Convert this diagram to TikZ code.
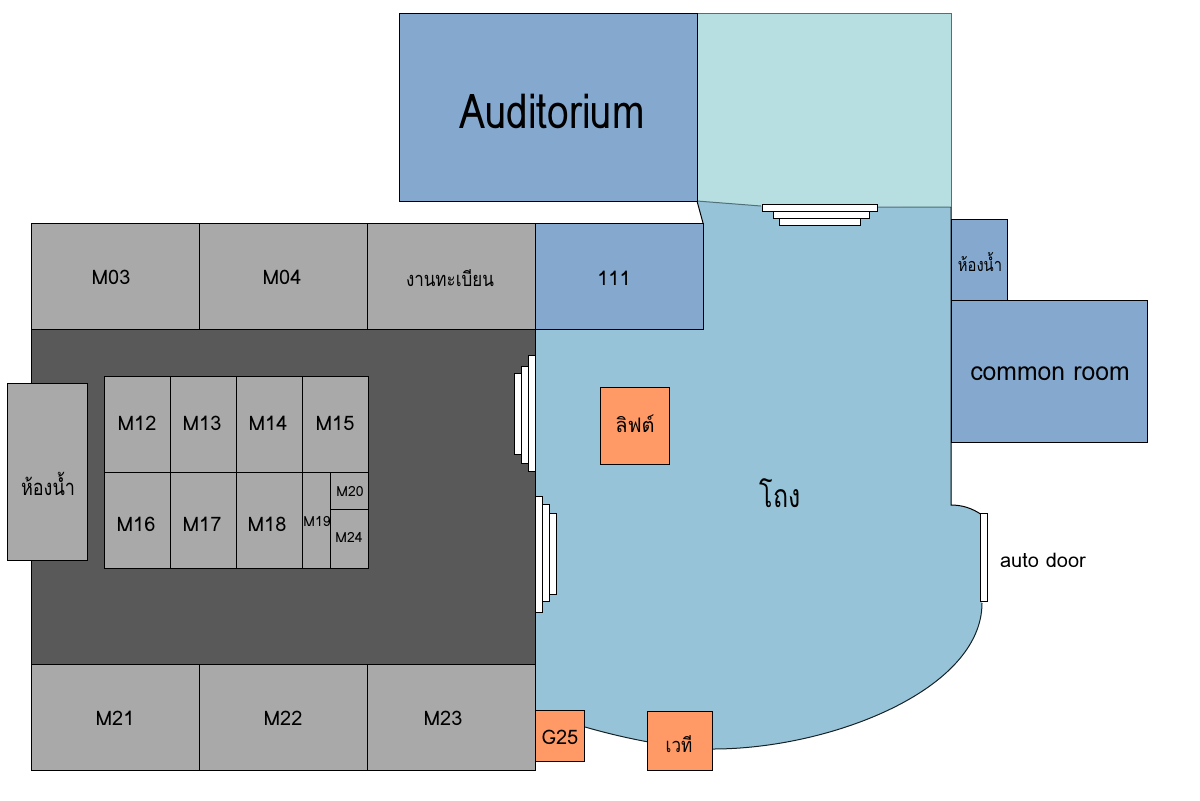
\documentclass[tikz,border=0pt]{standalone}
\usepackage{fontspec}
\setmainfont[Script=Thai]{Loma}
\definecolor{roomblue}{HTML}{85A9CE}
\definecolor{roomgray}{HTML}{A9A9A9}
\definecolor{darkfloor}{HTML}{595959}
\definecolor{hallblue}{HTML}{96C3D7}
\definecolor{paleteal}{HTML}{B7DFE1}
\definecolor{roomorange}{HTML}{FF9A66}
\definecolor{softedge}{HTML}{50707A}
\tikzset{
  x=0.5pt,y=-0.5pt,
  edge/.style={draw=black,line width=0.5pt},
  graybox/.style={edge,fill=roomgray},
  bluebox/.style={edge,fill=roomblue},
  orangebox/.style={edge,fill=roomorange},
  stairbox/.style={edge,fill=white},
  lbl/.style={inner sep=0pt,font=\fontsize{#1}{#1}\selectfont,text=black},
  lbl/.default=10
}
% name, style, x0, y0, x1, y1
\newcommand{\roomrect}[6]{%
  \pgfmathsetlengthmacro{\rw}{(#5-#3)*0.5pt}%
  \pgfmathsetlengthmacro{\rh}{(#6-#4)*0.5pt}%
  \node[#2,anchor=north west,inner sep=0pt,outer sep=0pt,minimum width=\rw,minimum height=\rh] (#1) at (#3,#4) {};%
}
\newcommand{\narrow}[2]{\scalebox{#1}[1]{#2}}
\begin{document}
\begin{tikzpicture}
\useasboundingbox (0,0) rectangle (1200,800);
% teal room and hall
\fill[paleteal] (697,13) -- (951,13) -- (951,207) -- (761,206) -- (697,201) -- cycle;
\draw[softedge,line width=0.5pt] (697,13) -- (951,13) -- (951,207);
\fill[hallblue] (697,201) -- (761,206) -- (951,207) -- (951,505)
  .. controls (962,505) and (972,508) .. (982,515) -- (982,603)
  .. controls (982,690) and (830,749) .. (713,749)
  .. controls (680,749) and (630,740) .. (585,727)
  -- (535,712) -- (535,223) -- (703,223) -- cycle;
\draw[softedge,line width=0.5pt] (697,201) -- (761,206) (877,207) -- (951,207);
\draw[black,line width=0.5pt] (951,207) -- (951,505)
  .. controls (962,505) and (972,508) .. (982,515);
\draw[black!70!softedge,line width=0.5pt] (982,603)
  .. controls (982,690) and (830,749) .. (713,749)
  .. controls (680,749) and (630,740) .. (585,727);
\draw[black,line width=0.5pt] (697,201) -- (703,223);
\draw[softedge,line width=0.5pt] (697,13) -- (697,201);
% dark floor
\roomrect{floor}{edge,fill=darkfloor}{31}{329}{535}{664}
% blue rooms
\roomrect{aud}{bluebox}{399}{13}{697}{201}
\roomrect{r111}{bluebox}{535}{223}{703}{329}
\roomrect{wcr}{bluebox}{951}{219}{1007}{300}
\roomrect{common}{bluebox}{951}{300}{1147}{442}
% gray rooms
\roomrect{m03}{graybox}{31}{223}{199}{329}
\roomrect{m04}{graybox}{199}{223}{367}{329}
\roomrect{reg}{graybox}{367}{223}{535}{329}
\roomrect{wcl}{graybox}{7}{383}{87}{560}
\roomrect{m12}{graybox}{104}{376}{170}{472}
\roomrect{m13}{graybox}{170}{376}{236}{472}
\roomrect{m14}{graybox}{236}{376}{302}{472}
\roomrect{m15}{graybox}{302}{376}{368}{472}
\roomrect{m16}{graybox}{104}{472}{170}{568}
\roomrect{m17}{graybox}{170}{472}{236}{568}
\roomrect{m18}{graybox}{236}{472}{302}{568}
\roomrect{m19}{graybox}{302}{472}{330}{568}
\roomrect{m20}{graybox}{330}{472}{368}{509}
\roomrect{m24}{graybox}{330}{509}{368}{568}
\roomrect{m21}{graybox}{31}{664}{199}{770}
\roomrect{m22}{graybox}{199}{664}{367}{770}
\roomrect{m23}{graybox}{367}{664}{535}{770}
% orange rooms
\roomrect{lift}{orangebox}{600}{387}{669}{464}
\roomrect{g25}{orangebox}{535}{710}{584}{761}
\roomrect{stage}{orangebox}{647}{711}{712}{770}
% stairs
\roomrect{st1}{stairbox}{762}{204}{877}{211}
\roomrect{st2}{stairbox}{773}{211}{869}{218}
\roomrect{st3}{stairbox}{779}{218}{860}{225}
\roomrect{sl1}{stairbox}{528}{355}{535}{471}
\roomrect{sl2}{stairbox}{521}{366}{528}{463}
\roomrect{sl3}{stairbox}{514}{373}{521}{454}
\roomrect{sr1}{stairbox}{535}{496}{542}{612}
\roomrect{sr2}{stairbox}{542}{504}{549}{601}
\roomrect{sr3}{stairbox}{549}{513}{556}{594}
\roomrect{door}{stairbox}{980}{513}{987}{601}
% labels
\node[lbl=24] (taud) at (552,111) {\narrow{0.81}{Auditorium}};
\node[lbl=10] (t03) at (111,277) {M03};
\node[lbl=10] (t04) at (282,277) {M04};
\node[lbl=10] (treg) at (450,278) {\narrow{0.85}{งานทะเบียน}};
\node[lbl=10] (t111) at (614,278) {111};
\node[lbl=9] (twcr) at (980,262) {\narrow{0.82}{ห้องน้ำ}};
\node[lbl=13] (tcommon) at (1050,374) {\narrow{0.95}{common room}};
\node[lbl=10] (tlift) at (635,424) {ลิฟต์};
\node[lbl=16] (thall) at (780,493) {\narrow{0.78}{โถง}};
\node[lbl=10] (tdoor) at (1043,560) {auto door};
\node[lbl=10] (t12) at (137,423) {M12};
\node[lbl=10] (t13) at (202,423) {M13};
\node[lbl=10] (t14) at (268,423) {M14};
\node[lbl=10] (t15) at (335,423) {M15};
\node[lbl=10] (t16) at (136,524) {M16};
\node[lbl=10] (t17) at (202,524) {M17};
\node[lbl=10] (t18) at (267,524) {M18};
\node[lbl=7] (t19) at (317,522) {M19};
\node[lbl=7] (t20) at (350,491) {M20};
\node[lbl=7] (t24) at (349,537) {M24};
\node[lbl=11] (twcl) at (48,484) {\narrow{0.82}{ห้องน้ำ}};
\node[lbl=10] (t21) at (115,718) {M21};
\node[lbl=10] (t22) at (283,718) {M22};
\node[lbl=10] (t23) at (443,718) {M23};
\node[lbl=10] (tg) at (560,737) {G25};
\node[lbl=10] (tstage) at (679,744) {\narrow{0.85}{เวที}};
\end{tikzpicture}
\end{document}
